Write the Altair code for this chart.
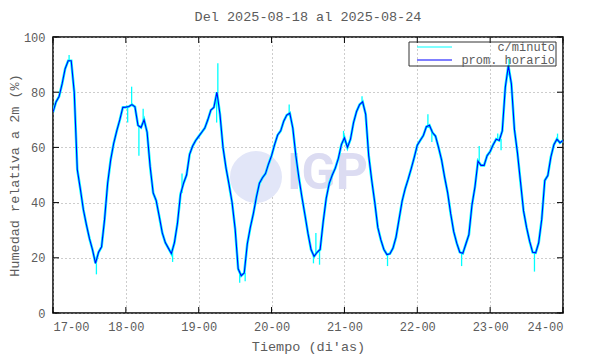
import json
import altair as alt
import pandas as pd

# ---------------- data ----------------
day_labels = ["17-00", "18-00", "19-00", "20-00", "21-00", "22-00", "23-00", "24-00"]
day_hours = [0, 24, 48, 72, 96, 120, 144, 168]
y_ticks = [0, 20, 40, 60, 80, 100]

# hourly average (prom. horario), hour 0 = 17-00
hourly_17 = [72.8, 76.5, 78.4, 83, 88.5, 91.4, 91.4, 80, 52, 45, 37.5, 32,
             27, 23, 18, 22, 24, 34, 47, 55.5, 61.5, 66, 70, 74.5]
hourly_18 = [74.6, 74.8, 75.5, 74.7, 68, 67.2, 70, 65.5, 53, 43.5, 40.7, 35,
             29, 25.5, 23.5, 21.5, 25.5, 32.5, 43, 47, 50, 57.5, 60.5, 62.5]
hourly_19 = [64, 65.5, 67, 70, 73.5, 74.5, 80, 72, 60, 52.5, 46.5, 40,
             30.5, 16, 13.5, 14.5, 25, 31, 36, 42, 47, 49, 50.5, 54]
hourly_20 = [57, 61, 64.5, 66, 69.5, 71.7, 72.4, 67, 57, 49, 42, 35.5,
             28.8, 23, 20.5, 22, 23, 33, 41.5, 47, 50, 52.5, 56, 61]
hourly_21 = [63.5, 60, 63, 69, 73, 75.5, 76.5, 72, 57, 48, 40, 31,
             26.5, 23, 21.2, 21.5, 23.5, 27.5, 34, 40.5, 45, 48.5, 52.3, 56.4]
hourly_22 = [60.8, 62.6, 64.3, 67.5, 68, 65.4, 64.1, 60, 55.5, 49.2, 43.6, 36,
             29.5, 25.3, 22, 21.6, 25, 28.4, 39, 45.7, 55, 53.5, 53.5, 57]
hourly_23 = [58.5, 61, 63, 62.5, 66, 81.8, 89.6, 83, 66.5, 58, 47.5, 37,
             31, 26, 22, 21.8, 25.5, 34, 48, 49.8, 56.5, 61, 63, 61.7]
hourly_24 = [62.5]

# per-minute series (c/minuto): excursions away from the hourly curve
spike_hours = [5.3, 14.3, 16.2, 24.6, 25.9, 28.3, 29.7, 39.4, 42.5, 53.9, 54.3,
               61.5, 63.3, 77.8, 85.8, 86.6, 87.8, 95.7, 101.8, 110.2, 123.5,
               124.8, 134.6, 140.4, 146.5, 147.6, 150.2, 158.6, 166.2]
spike_values = [93.5, 14, 27.5, 69, 82, 57, 74, 18.5, 50.5, 69, 90.5,
                11, 11.5, 75.5, 18, 29, 17.5, 66, 78.5, 17, 72,
                62, 17, 60.5, 65, 59, 92, 15, 65]
spike_base = [91.4, 18, 24, 74.7, 75.5, 67.5, 69, 22, 43.5, 77, 80,
              15, 14.5, 72.3, 21, 21.5, 22.5, 62.5, 76.3, 21.3, 67.7,
              66.5, 21.8, 54.5, 62.7, 63, 88.5, 22, 62.8]

hourly = (hourly_17 + hourly_18 + hourly_19 + hourly_20 + hourly_21 +
          hourly_22 + hourly_23 + hourly_24)

blue_df = pd.DataFrame({"h": list(range(len(hourly))), "v": hourly})
spike_df = pd.DataFrame({"h": spike_hours, "v": spike_values, "b": spike_base})
xt_df = pd.DataFrame({"h": day_hours})
yt_df = pd.DataFrame({"v": y_ticks})
one = pd.DataFrame({"k": [0]})

# ---------------- styling ----------------
FONT = "Liberation Mono"
TXT = "#5c5c5c"
W, H = 510, 276
CYAN = "#00ffff"
BLUE = "#0000ff"

xscale = alt.Scale(domain=[0, 168], nice=False, zero=False)
yscale = alt.Scale(domain=[0, 100], nice=False, zero=True)

xaxis = alt.Axis(values=day_hours,
                 labelExpr=json.dumps(day_labels) + "[round(datum.value/24)]",
                 title="Tiempo (di'as)", grid=True, gridDash=[1, 3],
                 gridColor="#9a9a9a", gridWidth=1, ticks=False, domain=False,
                 labelPadding=8, labelFont=FONT, labelFontSize=12, labelColor=TXT,
                 titleFont=FONT, titleFontSize=13.5, titleFontWeight="normal",
                 titleColor=TXT, titleY=33, titleBaseline="middle")
yaxis = alt.Axis(values=y_ticks, title="Humedad relativa a 2m (%)", grid=True,
                 gridDash=[1, 3], gridColor="#9a9a9a", gridWidth=1, ticks=False,
                 domain=False, labelPadding=8, labelFont=FONT, labelFontSize=12,
                 labelColor=TXT, titleFont=FONT, titleFontSize=13.5,
                 titleFontWeight="normal", titleColor=TXT, titleAngle=270,
                 titleX=-39, titleY=138, titleAlign="center",
                 titleBaseline="middle")

# watermark
globe = alt.Chart(one).mark_point(filled=True, shape="circle", size=2700,
                                   color="#e2e6f8", opacity=1).encode(
    x=alt.value(203), y=alt.value(140))
igp = alt.Chart(one).mark_text(text="IGP", font="Roboto", fontWeight="bold",
                               fontSize=50, color="#dcdcf2", align="left",
                               baseline="middle").encode(
    x=alt.value(234), y=alt.value(137))

cyan = alt.Chart(blue_df).mark_line(color=CYAN, strokeWidth=2.6, clip=True).encode(
    x=alt.X("h:Q", scale=xscale, axis=xaxis),
    y=alt.Y("v:Q", scale=yscale, axis=yaxis))
spikes = alt.Chart(spike_df).mark_rule(color=CYAN, strokeWidth=1.3, clip=True).encode(
    x=alt.X("h:Q", scale=xscale), y=alt.Y("v:Q", scale=yscale), y2="b:Q")
blue = alt.Chart(blue_df).mark_line(color=BLUE, strokeWidth=1.1, clip=True).encode(
    x=alt.X("h:Q", scale=xscale), y=alt.Y("v:Q", scale=yscale))

# inward ticks on all four sides
tick_b = alt.Chart(xt_df).mark_rule(color="black", strokeWidth=1).encode(
    x=alt.X("h:Q", scale=xscale), y=alt.value(H), y2=alt.value(H - 6))
tick_t = alt.Chart(xt_df).mark_rule(color="black", strokeWidth=1).encode(
    x=alt.X("h:Q", scale=xscale), y=alt.value(0), y2=alt.value(6))
tick_l = alt.Chart(yt_df).mark_rule(color="black", strokeWidth=1).encode(
    y=alt.Y("v:Q", scale=yscale), x=alt.value(0), x2=alt.value(6))
tick_r = alt.Chart(yt_df).mark_rule(color="black", strokeWidth=1).encode(
    y=alt.Y("v:Q", scale=yscale), x=alt.value(W - 6), x2=alt.value(W))

# legend box (gnuplot style key)
key_box = alt.Chart(one).mark_rect(fill=None, stroke="#333333", strokeWidth=1).encode(
    x=alt.value(356), x2=alt.value(503), y=alt.value(5), y2=alt.value(29))
key_c = alt.Chart(one).mark_rule(color=CYAN, strokeWidth=1).encode(
    x=alt.value(364), x2=alt.value(399), y=alt.value(10))
key_b = alt.Chart(one).mark_rule(color=BLUE, strokeWidth=1.2).encode(
    x=alt.value(364), x2=alt.value(399), y=alt.value(23))
key_t1 = alt.Chart(one).mark_text(text="c/minuto", font=FONT, fontSize=12,
                                  color=TXT, align="right", baseline="middle").encode(
    x=alt.value(502), y=alt.value(10))
key_t2 = alt.Chart(one).mark_text(text="prom. horario", font=FONT, fontSize=12,
                                  color=TXT, align="right", baseline="middle").encode(
    x=alt.value(502), y=alt.value(23))

chart = alt.layer(
    globe, igp, cyan, spikes, blue, tick_b, tick_t, tick_l, tick_r,
    key_box, key_c, key_b, key_t1, key_t2
).properties(
    width=W, height=H,
    title=alt.TitleParams("Del 2025-08-18 al 2025-08-24", font=FONT, fontSize=13.5,
                          fontWeight="normal", color=TXT, offset=8,
                          anchor="middle"),
    autosize=alt.AutoSizeParams(type="none"),
    padding={"left": 45, "top": 29, "right": 19, "bottom": 41},
    background="white",
).configure_view(stroke="black", strokeWidth=1.5)

chart.save("out.html", embed_options={"renderer": "svg", "actions": False})
